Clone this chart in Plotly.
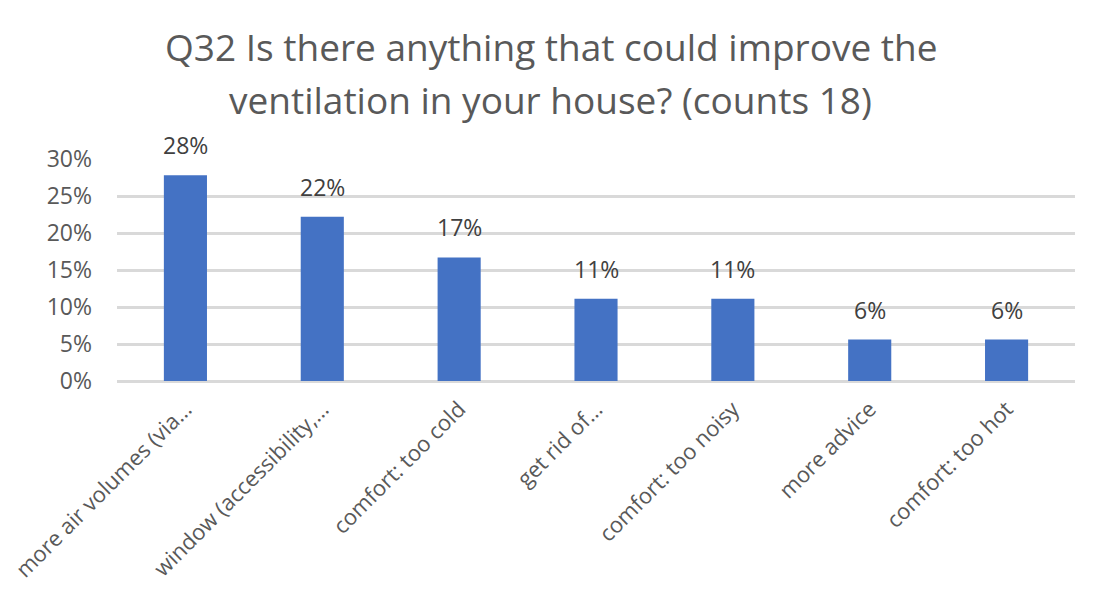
import plotly.graph_objects as go

categories = ["more air volumes (via…", "window (accessibility,…", "comfort: too cold",
              "get rid of…", "comfort: too noisy", "more advice", "comfort: too hot"]
values = [0.278, 0.222, 0.167, 0.111, 0.111, 0.056, 0.056]
labels = ["28%", "22%", "17%", "11%", "11%", "6%", "6%"]
tick_vals = [0, 0.05, 0.10, 0.15, 0.20, 0.25, 0.30]
tick_text = ["0%", "5%", "10%", "15%", "20%", "25%", "30%"]
title_lines = ["Q32 Is there anything that could improve the",
               "ventilation in your house? (counts 18)"]

font = "Open Sans"

fig = go.Figure(go.Bar(
    x=categories, y=values,
    marker=dict(color="#4472C4", line=dict(width=0)),
    hoverinfo="skip",
))

annotations = []
for c, v, t in zip(categories, values, labels):
    annotations.append(dict(
        x=c, y=v, xref="x", yref="y", text=t, showarrow=False,
        yanchor="bottom", yshift=12,
        font=dict(family=font, size=23, color="#404040"),
    ))
for line, yy in zip(title_lines, [1.509, 1.27]):
    annotations.append(dict(
        x=0.453, y=yy, xref="paper", yref="paper", text=line, showarrow=False,
        xanchor="center", yanchor="middle",
        font=dict(family=font, size=37, color="#595959"),
    ))

fig.update_layout(
    width=1100, height=602,
    paper_bgcolor="white", plot_bgcolor="white",
    margin=dict(l=109, r=33, t=151, b=229),
    bargap=0.685,
    showlegend=False,
    annotations=annotations,
    xaxis=dict(
        tickangle=-45, tickfont=dict(family=font, size=22, color="#595959"),
        showline=False, showgrid=False, ticks="", automargin=False,
        ticklabelstandoff=10,
    ),
    yaxis=dict(
        range=[0, 0.30], tickvals=tick_vals, ticktext=tick_text,
        tickfont=dict(family=font, size=23, color="#595959"),
        showgrid=True, gridcolor="#D9D9D9", gridwidth=2.5,
        zeroline=True, zerolinecolor="#D9D9D9", zerolinewidth=2.5,
        showline=False, ticks="", ticklabelstandoff=24, automargin=False,
    ),
)

fig.write_html("out.html")
